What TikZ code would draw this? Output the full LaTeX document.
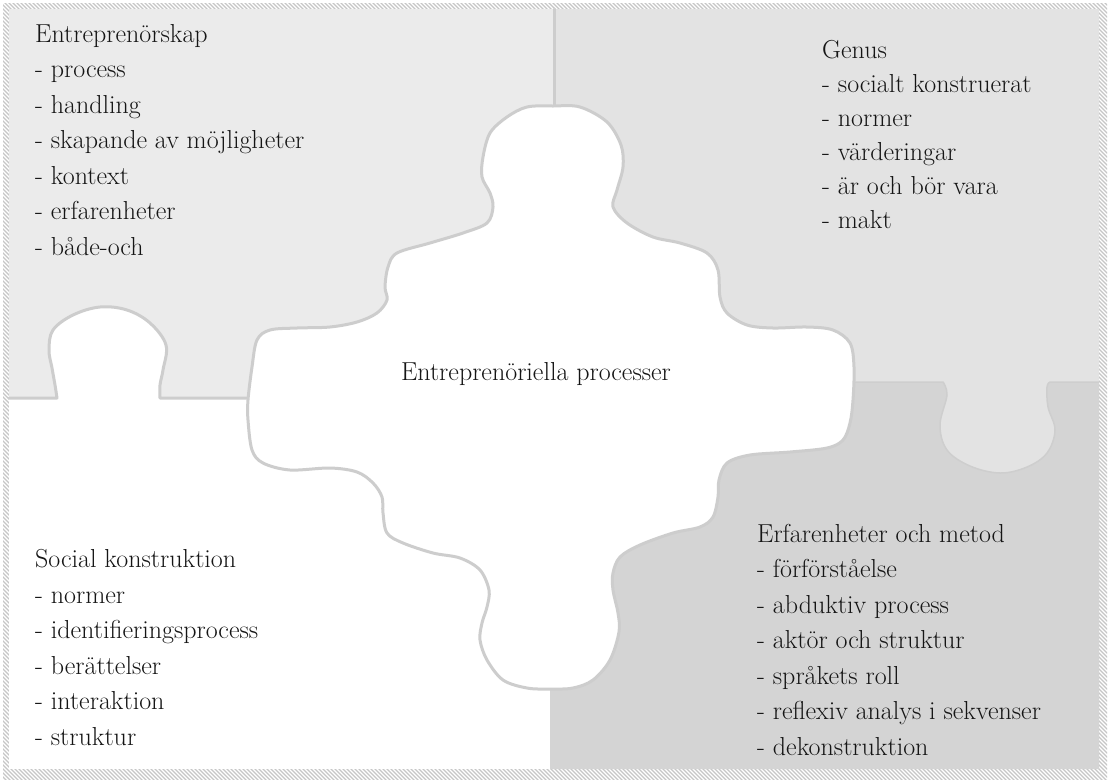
\documentclass[tikz,border=0pt]{standalone}
\begin{document}
\definecolor{panelA}{HTML}{EBEBEB}
\definecolor{panelB}{HTML}{E3E3E3}
\definecolor{panelC}{HTML}{D4D4D4}
\definecolor{edge}{HTML}{CDCDCD}
\definecolor{hatchgray}{HTML}{C6C6C6}
\definecolor{ink}{HTML}{151515}
\begin{tikzpicture}[x=1pt,y=-1pt,
  hatchline/.style={draw=hatchgray,line width=1.2pt},
  seam/.style={draw=edge,line width=3pt,line join=round,line cap=round},
  softseam/.style={draw=edge!80!panelC,line width=1.5pt},
  txt/.style={inner sep=0pt,align=left,text=ink,font=\fontsize{26}{35.5}\selectfont}]
\useasboundingbox (0,0) rectangle (1113,780);
\fill[white] (0,0) rectangle (1113,780);

% hatched frame
\begin{scope}
  \clip (3,3) rectangle (1107,779);
  \foreach \i in {-790,-786,...,1110} \draw[hatchline] (\i,0) -- ++(800,800);
\end{scope}
\fill[white] (9,9) rectangle (1099,769);

% upper right and lower right panels
\fill[panelB] (554,9) rectangle (1099,769);
\path[fill=panelC] (550,769) -- (550,689) -- (565,660) -- (590,560) -- (700,500)
  -- (713,445) -- (800,430) -- (840,382) -- (943,382)
  -- plot[smooth,tension=0.6] coordinates {(943,382) (947,395) (940,425) (947,450) (970,466) (1000,473) (1027,467) (1047,453) (1055,430) (1048,407) (1047,387) (1050,382)}
  -- (1099,382) -- (1099,769) -- cycle;
\draw[softseam] (852,382) -- (943,382)
  -- plot[smooth,tension=0.6] coordinates {(943,382) (947,395) (940,425) (947,450) (970,466) (1000,473) (1027,467) (1047,453) (1055,430) (1048,407) (1047,387) (1050,382)}
  -- (1099,382);

% upper left panel with the white tab reaching into it
\fill[panelA] (9,9) rectangle (554,398);
\fill[white] (57,398) -- plot[smooth,tension=0.6] coordinates {(57,398) (55,385) (52,368) (49,350) (53,330) (73,315) (100,307) (127,310) (150,323) (166,345) (163,370) (160,385) (160,398)} -- cycle;
\draw[seam] (9,398) -- (57,398)
  -- plot[smooth,tension=0.6] coordinates {(57,398) (55,385) (52,368) (49,350) (53,330) (73,315) (100,307) (127,310) (150,323) (166,345) (163,370) (160,385) (160,398)}
  -- (252,398);
\draw[seam] (554,9) -- (554,108);

% centre piece
\draw[seam,fill=white] plot[smooth cycle,tension=0.55] coordinates {
  (527,107) (553,106) (580,107) (607,122) (621,145) (623,167) (617,190) (613,207)
  (627,223) (653,237) (680,243) (707,253) (718,270) (720,297) (727,313) (747,325)
  (773,328) (807,327) (833,330) (850,343) (854,367) (853,400) (850,423) (843,440)
  (827,448) (790,452) (750,455) (727,463) (719,480) (718,497) (713,517) (700,527)
  (673,533) (640,545) (620,557) (613,573) (613,590) (618,613) (619,632) (610,660)
  (593,680) (573,688) (550,689) (527,688) (503,680) (487,660) (480,640) (482,623)
  (487,607) (489,590) (480,570) (460,558) (433,553) (403,543) (387,533) (383,513)
  (382,497) (373,483) (357,472) (330,468) (290,470) (263,463) (252,450) (248,420)
  (248,400) (252,367) (257,340) (270,330) (297,328) (330,327) (357,322) (377,313)
  (387,300) (385,287) (388,267) (397,253) (430,243) (463,233) (487,223) (493,207)
  (490,193) (482,177) (483,157) (490,133) (507,117)};

% texts (anchored at the baseline of the last line)
\node[txt,anchor=base west] (entre) at (35,255) {Entreprenörskap\\- process\\- handling\\- skapande av möjligheter\\- kontext\\- erfarenheter\\- både-och};
\node[txt,anchor=base west,font=\fontsize{26}{34}\selectfont] (genus) at (822,228) {Genus\\- socialt konstruerat\\- normer\\- värderingar\\- är och bör vara\\- makt};
\node[txt,anchor=base west] (social) at (35,745) {Social konstruktion\\- normer\\- identifieringsprocess\\- berättelser\\- interaktion\\- struktur};
\node[txt,anchor=base west] (erfar) at (757,755) {Erfarenheter och metod\\- förförståelse\\- abduktiv process\\- aktör och struktur\\- språkets roll\\- reflexiv analys i sekvenser\\- dekonstruktion};
\node[txt,anchor=base] (centre) at (536,380) {Entreprenöriella processer};
\end{tikzpicture}
\end{document}
